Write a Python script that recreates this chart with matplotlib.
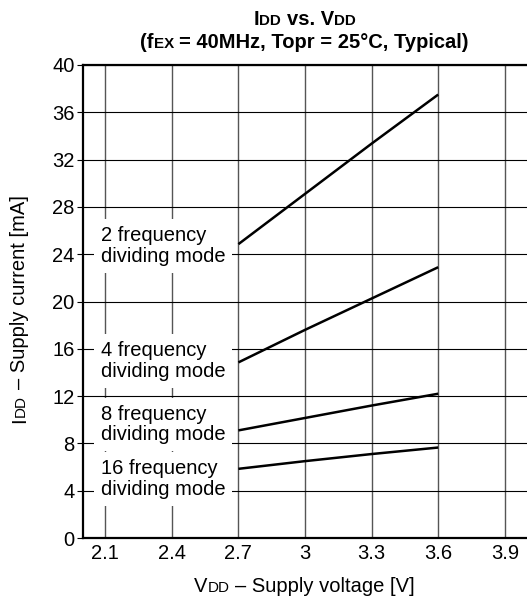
import numpy as np
import matplotlib
matplotlib.use('Agg')
import matplotlib.pyplot as plt

plt.rcParams['font.family'] = ['Liberation Sans', 'DejaVu Sans']

# supply voltage [V] and supply current [mA] per dividing mode
volt = [2.7, 3.0, 3.3, 3.6]
idd_div2 = [24.85, 29.1, 33.35, 37.5]
idd_div4 = [14.85, 17.6, 20.25, 22.9]
idd_div8 = [9.1, 10.15, 11.2, 12.2]
idd_div16 = [5.85, 6.5, 7.1, 7.65]

mode_labels = ['2 frequency\ndividing mode', '4 frequency\ndividing mode',
               '8 frequency\ndividing mode', '16 frequency\ndividing mode']
label_y = [24.7, 15.0, 9.6, 5.0]

xticks = [2.1, 2.4, 2.7, 3.0, 3.3, 3.6, 3.9]
xtick_labels = ['2.1', '2.4', '2.7', '3', '3.3', '3.6', '3.9']
yticks = [0, 4, 8, 12, 16, 20, 24, 28, 32, 36, 40]

W, H = 527, 601
FS = 14.5
SMALL = FS * 0.75

fig = plt.figure(figsize=(W / 100, H / 100), dpi=100)
ax = fig.add_axes([83 / W, 1 - 538 / H, (W - 83) / W, (538 - 65) / H])

for y in [idd_div2, idd_div4, idd_div8, idd_div16]:
    ax.plot(volt, y, color='black', lw=1.8, solid_capstyle='butt', zorder=5)

for txt, yy in zip(mode_labels, label_y):
    ax.text(2.08, yy, txt, fontsize=FS, ha='left', va='center', linespacing=1.12,
            bbox=dict(facecolor='white', edgecolor='none', boxstyle='square,pad=0.35'),
            zorder=4)

ax.set_xlim(2.0, 4.0)
ax.set_ylim(0, 40)
ax.set_xticks(xticks)
ax.set_xticklabels(xtick_labels)
ax.set_yticks(yticks)
ax.tick_params(axis='x', length=0, pad=4, labelsize=FS)
ax.tick_params(axis='y', length=4, width=0.8, pad=2, labelsize=FS)
ax.set_axisbelow(True)
ax.xaxis.grid(True, color='#555555', lw=1.0)
ax.yaxis.grid(True, color='black', lw=0.8)
ax.spines['right'].set_visible(False)
for s in ['left', 'bottom', 'top']:
    ax.spines[s].set_linewidth(1.6)


def rich_text(x, y, pieces, rotation=0, weight='normal'):
    # x, y: pixel centre of the baseline, measured from the top-left corner
    r = fig.canvas.get_renderer()

    def width(s, size):
        t = fig.text(0, 0, '|' + s + '|', fontsize=size, weight=weight)
        a = t.get_window_extent(r).width
        t.remove()
        t = fig.text(0, 0, '||', fontsize=size, weight=weight)
        b = t.get_window_extent(r).width
        t.remove()
        return a - b

    widths = [width(s, size) for s, size in pieces]
    pos = -sum(widths) / 2
    for (s, size), w in zip(pieces, widths):
        lead = len(s) - len(s.lstrip())
        off = pos + (width(' ' * lead, size) if lead else 0)
        if rotation == 0:
            px, py = x + off, y
        else:
            px, py = x, y - off
        fig.text(px / W, 1 - py / H, s.strip(), fontsize=size, weight=weight,
                 ha='left', va='baseline', rotation=rotation, rotation_mode='anchor')
        pos += w


rich_text(304.5, 25, [('I', FS), ('DD', SMALL), (' vs. V', FS), ('DD', SMALL)], weight='bold')
rich_text(304.5, 48, [('(f', FS), ('EX', SMALL), (' = 40MHz, Topr = 25°C, Typical)', FS)],
          weight='bold')
rich_text(304.5, 592, [('V', FS), ('DD', SMALL), (' – Supply voltage [V]', FS)])
rich_text(25, 309, [('I', FS), ('DD', SMALL), (' – Supply current [mA]', FS)], rotation=90)

fig.savefig('out.png', dpi=100)
